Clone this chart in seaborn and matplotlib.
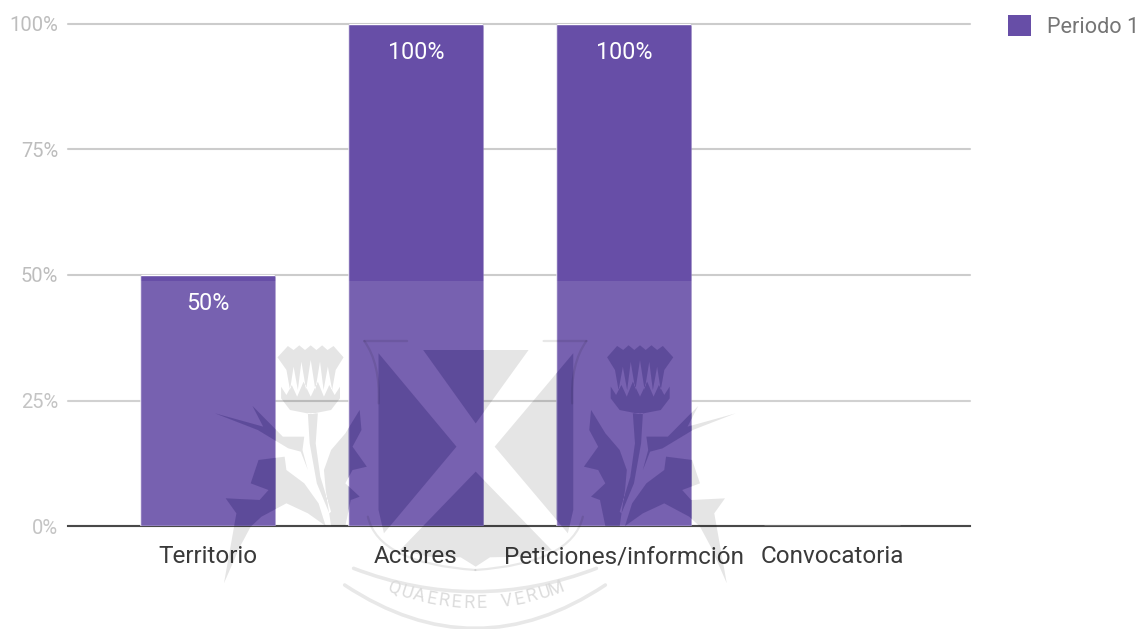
import numpy as np
import pandas as pd
import seaborn as sns
import matplotlib
matplotlib.use("Agg")
import matplotlib.pyplot as plt
from matplotlib.path import Path
from matplotlib.patches import PathPatch, Rectangle, FancyBboxPatch, Patch
from matplotlib.transforms import IdentityTransform
from matplotlib.ticker import FuncFormatter

categories = ["Territorio", "Actores", "Peticiones/informción", "Convocatoria"]
values = [50, 100, 100, 0]
labels = ["50%", "100%", "100%", ""]
series = "Periodo 1"
yticks = [0, 25, 50, 75, 100]

sns.set_theme(style="white")
plt.rcParams["font.family"] = ["Roboto", "DejaVu Sans"]

W, H = 1142, 629
fig = plt.figure(figsize=(W / 100, H / 100), dpi=100)
ax = fig.add_axes([68 / W, 1 - 526 / H, (970 - 68) / W, (526 - 24) / H])

PURPLE = "#674ea7"
df = pd.DataFrame({"categoria": categories, "valor": values})
sns.barplot(data=df, x="categoria", y="valor", color=PURPLE, saturation=1,
            width=0.65, ax=ax, zorder=3)

ax.set_xlim(-0.673, 3.663)
ax.set_ylim(0, 100)
ax.set_xlabel("")
ax.set_ylabel("")
ax.set_yticks(yticks)
ax.yaxis.set_major_formatter(FuncFormatter(lambda v, _: f"{v:.0f}%"))
ax.grid(axis="y", color="#cccccc", lw=1.5, zorder=0, clip_on=False)
ax.grid(axis="x", visible=False)
ax.set_axisbelow(True)
for s in ["top", "left", "right"]:
    ax.spines[s].set_visible(False)
ax.spines["bottom"].set_color("#333333")
ax.spines["bottom"].set_linewidth(1.5)
ax.tick_params(axis="y", length=0, pad=7, labelsize=14.5, labelcolor="#bdbdbd")
ax.tick_params(axis="x", length=0, pad=14, labelsize=17.5, labelcolor="#222222")

# data labels inside each bar
ax.bar_label(ax.containers[0], labels=labels, padding=-29, color="white", fontsize=16.8)

# rounded top corners of the bars
bar_rects = []
fig.canvas.draw()
for b in ax.containers[0]:
    bb = b.get_window_extent()
    bar_rects.append(bb)
    if bb.height > 1:
        clip = FancyBboxPatch((bb.x0 + 3, bb.y0 - 10), bb.width - 6, bb.height + 8,
                              boxstyle="round,pad=3,rounding_size=4",
                              transform=IdentityTransform())
        b.set_clip_path(clip)

# legend
handle = Patch(facecolor=PURPLE, edgecolor=PURPLE, label=series, lw=0)
leg = fig.legend(handles=[handle], loc="upper left",
                 bbox_to_anchor=(1007.5 / W, 1 - 15 / H), frameon=False,
                 fontsize=15.6, labelcolor="#757575", borderpad=0, borderaxespad=0,
                 handlelength=1.08, handleheight=1.08, handletextpad=0.74)

# ---- watermark laid over the whole picture ----
ov = fig.add_axes([0, 0, 1, 1], zorder=10)
ov.set_xlim(0, W)
ov.set_ylim(H, 0)
ov.axis("off")
ov.patch.set_visible(False)
ov.add_patch(Rectangle((0, 281), W, H - 281, fc="white", ec="none", alpha=0.11))


def z(pts, mirror=False):
    out = []
    for x, y in pts:
        if mirror:
            x = 1542 - x
        out.append((200 + x / 2.8, 270 + y / 3))
    return out


def poly(pts):
    pts = list(pts)
    return Path(pts + [pts[0]], [Path.MOVETO] + [Path.LINETO] * (len(pts) - 1) + [Path.CLOSEPOLY])


shield = [
    [(625, 240), (920, 240), (772, 460)],
    [(500, 250), (718, 530), (515, 790), (500, 720)],
    [(1045, 250), (825, 530), (1030, 790), (1045, 720)],
    [(772, 605), (560, 840), (640, 860), (730, 862), (772, 890), (812, 862), (900, 860), (985, 840)],
]
thistle = [
    [(1140, 262), (1168, 228), (1185, 240), (1200, 226), (1216, 240), (1232, 226), (1248, 240),
     (1264, 226), (1280, 240), (1296, 228), (1325, 262), (1300, 300), (1290, 360), (1280, 290),
     (1268, 360), (1258, 275), (1245, 360), (1232, 270), (1219, 360), (1206, 275), (1196, 360),
     (1184, 290), (1172, 360), (1162, 300)],
    [(1150, 350), (1150, 385), (1175, 420), (1232, 432), (1290, 420), (1315, 385), (1315, 350),
     (1300, 375), (1285, 345), (1270, 380), (1252, 335), (1232, 380), (1212, 335), (1195, 380),
     (1180, 345), (1165, 375)],
    [(1212, 430), (1240, 430), (1235, 520), (1215, 640), (1180, 730), (1175, 725), (1205, 620),
     (1218, 520)],
    [(1095, 420), (1090, 480), (1115, 530), (1075, 590), (1115, 600), (1135, 640), (1095, 680),
     (1120, 690), (1135, 768), (1175, 768), (1190, 660), (1195, 600), (1175, 540), (1135, 490)],
    [(1250, 500), (1310, 500), (1395, 408), (1365, 470), (1500, 430), (1380, 480), (1295, 535),
     (1260, 545), (1240, 600), (1255, 540)],
    [(1305, 560), (1378, 570), (1400, 640), (1350, 660), (1375, 690), (1470, 685), (1440, 730),
     (1450, 790), (1475, 940), (1430, 830), (1400, 770), (1370, 740), (1300, 700), (1240, 730),
     (1190, 768), (1210, 700), (1250, 640), (1300, 600)],
]
paths = [poly(z(s)) for s in shield]
for t in thistle:
    paths.append(poly(z(t)))
    paths.append(poly(z(t, mirror=True)))
mark = Path.make_compound_path(*paths)

ov.add_patch(PathPatch(mark, fc="black", ec="none", alpha=0.10))

# the shapes read darker where they cross the bars
to_ov = ov.transData.inverted()
rects = []
for bb in bar_rects:
    if bb.height > 1:
        (x0, y0), (x1, y1) = to_ov.transform([(bb.x0, bb.y0), (bb.x1, bb.y1)])
        rects.append(poly([(x0, y0), (x1, y0), (x1, y1), (x0, y1)]))
bars_path = Path.make_compound_path(*rects)
dark = PathPatch(mark, fc=(43 / 255, 27 / 255, 142 / 255), ec="none", alpha=0.2)
ov.add_patch(dark)
dark.set_clip_path(bars_path, ov.transData)


def stroke(pts, lw):
    p = Path(z(pts), [Path.MOVETO] + [Path.CURVE3] * (len(pts) - 1))
    ov.add_patch(PathPatch(p, fc="none", ec="black", alpha=0.09, lw=lw, capstyle="round"))


# ribbons and shield border
stroke([(405, 945), (771, 1205), (1135, 945)], 2.6)
stroke([(430, 895), (771, 1035), (1110, 895)], 2.6)
stroke([(470, 740), (500, 880), (771, 900)], 1.6)
stroke([(1072, 740), (1042, 880), (771, 900)], 1.6)
stroke([(460, 213), (505, 280), (500, 400)], 1.6)
stroke([(1082, 213), (1037, 280), (1042, 400)], 1.6)
stroke([(460, 213), (520, 213), (580, 213)], 1.6)
stroke([(1082, 213), (1022, 213), (962, 213)], 1.6)

# motto on a curve
motto = "QUAERERE VERUM"
R = 226
cx, cy = 200 + 771 / 2.8, 270 + 1000 / 3 - R
angles = np.linspace(21, -21, len(motto))
for ch, a in zip(motto, angles):
    r = np.radians(a)
    ov.text(cx - R * np.sin(r), cy + R * np.cos(r), ch, rotation=-a, ha="center", va="center",
            fontsize=13, color="#dcdcdc", rotation_mode="anchor")

fig.savefig("out.png", dpi=100, facecolor="white")
